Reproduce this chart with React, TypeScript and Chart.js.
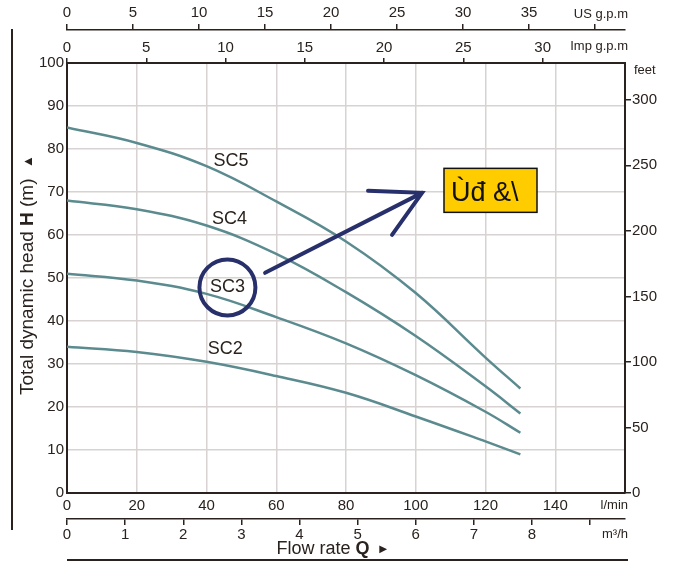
import React, { useEffect, useRef } from 'react';
import { Chart, registerables } from 'chart.js';

Chart.register(...registerables);

// flow in l/min, head in m
const flowLpm = [0, 20, 40, 60, 80, 100, 120, 130];
const headSC5 = [85, 81.4, 76, 67.8, 58.5, 46.5, 31.5, 24.3];
const headSC4 = [68, 66, 62.2, 55.6, 46.7, 36.5, 24.8, 18.5];
const headSC3 = [51, 49.4, 46.3, 40.9, 34.8, 27.4, 18.9, 14];
const headSC2 = [34, 32.8, 30.5, 27.2, 23.3, 17.8, 12, 9];

const curveNames = ['SC5', 'SC4', 'SC3', 'SC2'];
const labelFlow = [47, 46.6, 46, 45.4];
const labelHead = [77.3, 63.6, 47.8, 33.4];

const headTicks = [0, 10, 20, 30, 40, 50, 60, 70, 80, 90, 100];
const feetTicks = [0, 50, 100, 150, 200, 250, 300];
const lpmTicks = [0, 20, 40, 60, 80, 100, 120, 140, 160];
const m3hTicks = [0, 1, 2, 3, 4, 5, 6, 7, 8, 9];
const usTicks = [0, 5, 10, 15, 20, 25, 30, 35, 40];
const impTicks = [0, 5, 10, 15, 20, 25, 30];

const boxText = 'Ùđ &\\';

const LPM_PER_M3H = 1000 / 60;
const LPM_PER_US = 3.78541;
const LPM_PER_IMP = 4.54609;
const FT_PER_M = 3.28084;
const MAX_LPM = 160;
const MAX_H = 100;

const INK = '#2a221e';
const GRID = '#d8d2d2';
const CURVE = '#5b8b8f';
const NAVY = '#28306b';
const FONT = '"Liberation Sans", Arial, sans-serif';

const setTicks = (vals: number[]) => (s: any) => {
  s.ticks = vals.map(v => ({ value: v }));
};

const decor = {
  id: 'decor',
  afterDraw(chart: any) {
    const { ctx, chartArea: a, scales } = chart;
    const x = scales.x;
    const y = scales.y;
    ctx.save();

    // curve names
    ctx.fillStyle = INK;
    ctx.font = `18px ${FONT}`;
    ctx.textAlign = 'center';
    ctx.textBaseline = 'middle';
    curveNames.forEach((n, i) => {
      ctx.fillText(n, x.getPixelForValue(labelFlow[i]), y.getPixelForValue(labelHead[i]));
    });

    // circle round SC3
    ctx.strokeStyle = NAVY;
    ctx.lineWidth = 4;
    ctx.beginPath();
    ctx.arc(x.getPixelForValue(46), y.getPixelForValue(47.8), 28, 0, Math.PI * 2);
    ctx.stroke();

    // arrow
    const x0 = x.getPixelForValue(56.8), y0 = y.getPixelForValue(51.2);
    const x1 = x.getPixelForValue(101.8), y1 = y.getPixelForValue(69.8);
    ctx.lineCap = 'round';
    ctx.beginPath();
    ctx.moveTo(x0, y0);
    ctx.lineTo(x1, y1);
    ctx.moveTo(x1 - 54, y1 - 2);
    ctx.lineTo(x1, y1);
    ctx.lineTo(x1 - 30, y1 + 42);
    ctx.stroke();

    // yellow box
    const bx = x.getPixelForValue(108.1), by = y.getPixelForValue(75.5);
    ctx.fillStyle = '#ffcc00';
    ctx.fillRect(bx, by, 93, 44);
    ctx.strokeStyle = '#111';
    ctx.lineWidth = 1.5;
    ctx.strokeRect(bx, by, 93, 44);
    ctx.fillStyle = '#111';
    ctx.font = `27px ${FONT}`;
    ctx.textAlign = 'left';
    ctx.textBaseline = 'alphabetic';
    ctx.fillText(boxText, bx + 7, by + 33);

    // unit labels
    ctx.fillStyle = INK;
    ctx.font = `13px ${FONT}`;
    ctx.textAlign = 'right';
    ctx.textBaseline = 'middle';
    ctx.fillText('US g.p.m', a.right + 3, 14);
    ctx.fillText('Imp g.p.m', a.right + 3, a.top - 17);
    ctx.fillText('l/min', a.right + 3, a.bottom + 12);
    ctx.fillText('m³/h', a.right + 3, a.bottom + 41);
    ctx.textAlign = 'left';
    ctx.fillText('feet', a.right + 9, a.top + 7);

    // flow rate title
    const p1 = 'Flow rate ';
    ctx.font = `18px ${FONT}`;
    const w1 = ctx.measureText(p1).width;
    ctx.font = `bold 18px ${FONT}`;
    const w2 = ctx.measureText('Q').width;
    ctx.font = `13px ${FONT}`;
    const w3 = ctx.measureText('  ►').width;
    let tx = 333 - (w1 + w2 + w3) / 2;
    const ty = a.bottom + 56;
    ctx.font = `18px ${FONT}`;
    ctx.fillText(p1, tx, ty);
    tx += w1;
    ctx.font = `bold 18px ${FONT}`;
    ctx.fillText('Q', tx, ty);
    tx += w2;
    ctx.font = `13px ${FONT}`;
    ctx.fillText('  ►', tx, ty);

    // head title, rotated
    ctx.translate(28, (a.top + a.bottom) / 2 - 3);
    ctx.rotate(-Math.PI / 2);
    const parts: [string, string][] = [
      ['Total dynamic head ', `19px ${FONT}`],
      ['H', `bold 19px ${FONT}`],
      [' (m)  ', `19px ${FONT}`],
      ['▲', `13px ${FONT}`],
    ];
    const widths = parts.map(([t, f]) => { ctx.font = f; return ctx.measureText(t).width; });
    let px = -widths.reduce((s, w) => s + w, 0) / 2;
    parts.forEach(([t, f], i) => {
      ctx.font = f;
      ctx.fillText(t, px, 0);
      px += widths[i];
    });
    ctx.setTransform(1, 0, 0, 1, 0, 0);
    ctx.restore();

    // frame lines
    ctx.save();
    ctx.strokeStyle = INK;
    ctx.lineWidth = 2;
    ctx.beginPath();
    ctx.moveTo(12, 29);
    ctx.lineTo(12, 530);
    ctx.moveTo(a.left, 560);
    ctx.lineTo(a.right + 3, 560);
    ctx.stroke();
    ctx.restore();
  },
};

const mkSeries = (label: string, head: number[]) => ({
  label,
  data: flowLpm.map((q, i) => ({ x: q, y: head[i] })),
  borderColor: CURVE,
  borderWidth: 2.5,
  pointRadius: 0,
  tension: 0.4,
  fill: false,
});

const edgeGrid = (lo: number, hi: number) => (c: any) =>
  c.tick && (c.tick.value === lo || c.tick.value === hi) ? 'rgba(0,0,0,0)' : GRID;

export default function App() {
  const canvasRef = useRef<HTMLCanvasElement>(null);
  const chartRef = useRef<Chart>();

  useEffect(() => {
    document.body.style.margin = '0';
    if (!canvasRef.current) return;
    chartRef.current?.destroy();

    const tickFont = { family: FONT, size: 15 };
    const smallFont = { family: FONT, size: 15 };

    chartRef.current = new Chart(canvasRef.current, {
      type: 'line',
      data: {
        datasets: [
          mkSeries('SC5', headSC5),
          mkSeries('SC4', headSC4),
          mkSeries('SC3', headSC3),
          mkSeries('SC2', headSC2),
        ],
      },
      options: {
        responsive: false,
        animation: false,
        layout: { padding: 0 },
        plugins: { legend: { display: false }, tooltip: { enabled: false } },
        scales: {
          x: {
            type: 'linear',
            position: 'bottom',
            weight: 0,
            min: 0,
            max: MAX_LPM,
            afterBuildTicks: setTicks(lpmTicks),
            afterFit: (s: any) => { s.height = 26; },
            ticks: {
              color: INK, font: tickFont, padding: 4, maxRotation: 0, autoSkip: false,
              callback: (v: any) => (v === MAX_LPM ? '' : String(v)),
            },
            grid: { color: edgeGrid(0, MAX_LPM), lineWidth: 1.5, drawTicks: false },
            border: { display: true, color: INK, width: 2 },
          },
          xM: {
            type: 'linear',
            position: 'bottom',
            weight: 1,
            min: 0,
            max: MAX_LPM / LPM_PER_M3H,
            afterBuildTicks: setTicks(m3hTicks),
            afterFit: (s: any) => { s.height = 43; },
            ticks: {
              color: INK, font: smallFont, padding: 1, maxRotation: 0, autoSkip: false,
              callback: (v: any) => (v === 9 ? '' : String(v)),
            },
            grid: { drawOnChartArea: false, color: INK, lineWidth: 1.5, tickLength: 6 },
            border: { display: true, color: INK, width: 1.5 },
          },
          xImp: {
            type: 'linear',
            position: 'top',
            weight: 0,
            min: 0,
            max: MAX_LPM / LPM_PER_IMP,
            afterBuildTicks: setTicks(impTicks),
            afterFit: (s: any) => { s.height = 33; },
            ticks: { color: INK, font: smallFont, padding: 1, maxRotation: 0, autoSkip: false },
            grid: { drawOnChartArea: false, color: INK, lineWidth: 1.5, tickLength: 5 },
            border: { display: true, color: INK, width: 2 },
          },
          xUS: {
            type: 'linear',
            position: 'top',
            weight: 1,
            min: 0,
            max: MAX_LPM / LPM_PER_US,
            afterBuildTicks: setTicks(usTicks),
            afterFit: (s: any) => { s.height = 30; },
            ticks: {
              color: INK, font: smallFont, padding: 2, maxRotation: 0, autoSkip: false,
              callback: (v: any) => (v === 40 ? '' : String(v)),
            },
            grid: { drawOnChartArea: false, color: INK, lineWidth: 1.5, tickLength: 6 },
            border: { display: true, color: INK, width: 1.5 },
          },
          y: {
            type: 'linear',
            position: 'left',
            min: 0,
            max: MAX_H,
            afterBuildTicks: setTicks(headTicks),
            afterFit: (s: any) => { s.width = 67; },
            ticks: { color: INK, font: tickFont, padding: 3, autoSkip: false },
            grid: { color: edgeGrid(0, MAX_H), lineWidth: 1.5, drawTicks: false },
            border: { display: true, color: INK, width: 2 },
          },
          yFt: {
            type: 'linear',
            position: 'right',
            min: 0,
            max: MAX_H * FT_PER_M,
            afterBuildTicks: setTicks(feetTicks),
            afterFit: (s: any) => { s.width = 49; },
            ticks: { color: INK, font: tickFont, padding: 1, autoSkip: false },
            grid: { drawOnChartArea: false, color: INK, lineWidth: 1.5, tickLength: 6 },
            border: { display: true, color: INK, width: 2 },
          },
        },
      },
      plugins: [decor],
    });

    return () => { chartRef.current?.destroy(); };
  }, []);

  return <canvas ref={canvasRef} width={674} height={562} style={{ display: 'block' }} />;
}
